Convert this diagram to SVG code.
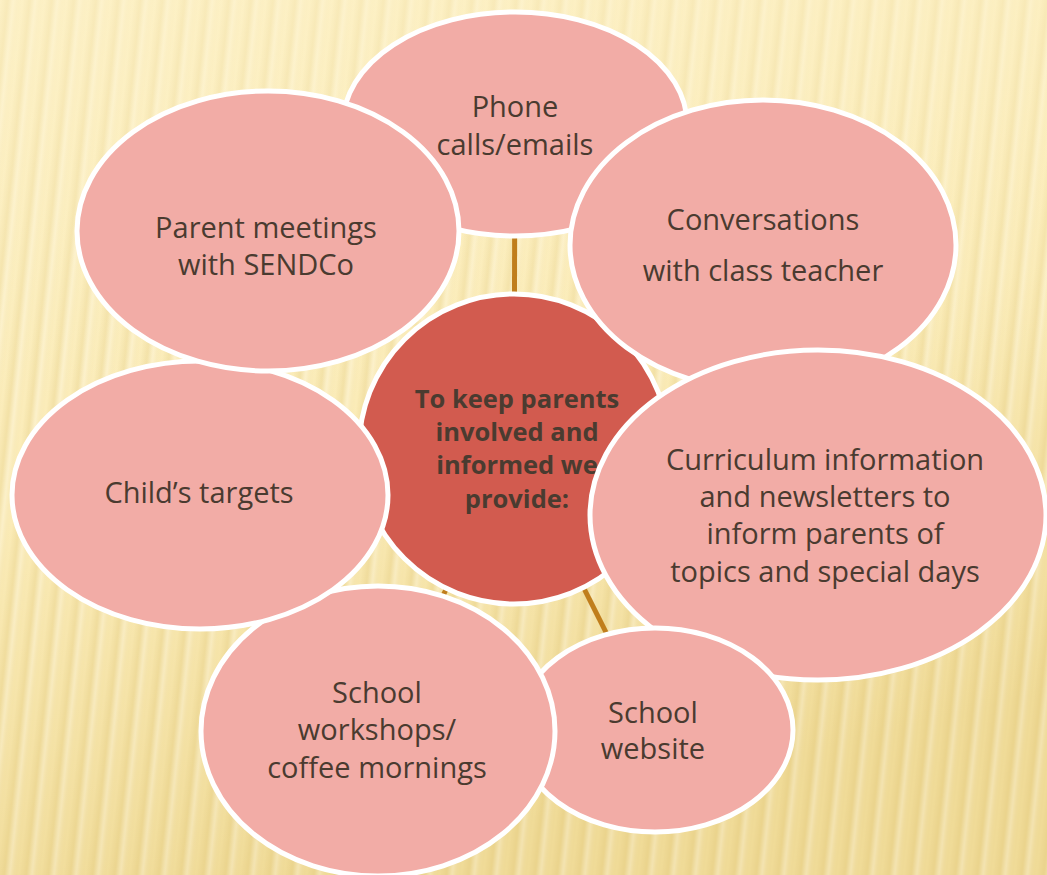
<svg xmlns="http://www.w3.org/2000/svg" width="1047" height="875" viewBox="0 0 1047 875">
  <defs>
    <linearGradient id="bg" x1="0" y1="0" x2="0.3" y2="1">
      <stop offset="0" stop-color="#fdf1c6"/>
      <stop offset="0.55" stop-color="#fbecb8"/>
      <stop offset="1" stop-color="#f0db98"/>
    </linearGradient>
    <linearGradient id="stripeg" x1="0" y1="0" x2="1" y2="0">
      <stop offset="0" stop-color="#d9bd6a" stop-opacity="0"/>
      <stop offset="0.35" stop-color="#d9bd6a" stop-opacity="0.25"/>
      <stop offset="0.6" stop-color="#ffffff" stop-opacity="0.25"/>
      <stop offset="1" stop-color="#d9bd6a" stop-opacity="0"/>
    </linearGradient>
    <pattern id="stripes" width="22" height="40" patternUnits="userSpaceOnUse" patternTransform="rotate(6)">
      <rect width="22" height="40" fill="url(#stripeg)"/>
    </pattern>
    <linearGradient id="fade" x1="0" y1="0" x2="0" y2="1">
      <stop offset="0" stop-color="#fdf1c6" stop-opacity="0.45"/>
      <stop offset="1" stop-color="#fdf1c6" stop-opacity="0"/>
    </linearGradient>
  </defs>
  <style>
    .node { fill: #f2aca6; stroke: #ffffff; stroke-width: 5; }
    .hub { fill: #d25b4f; stroke: #ffffff; stroke-width: 5; }
    .lbl { font-family: "Comic Sans MS", "Open Sans", "DejaVu Sans", sans-serif; font-size: 29px; fill: #4a3b30; text-anchor: middle; }
    .hubl { font-family: "Comic Sans MS", "Open Sans", "DejaVu Sans", sans-serif; font-size: 25.5px; font-weight: bold; fill: #4a3b30; text-anchor: middle; }
    .conn { stroke: #c07e1c; stroke-width: 5; fill: none; }
  </style>
  <rect width="1047" height="875" fill="url(#bg)"/>
  <rect width="1047" height="875" fill="url(#stripes)"/>
  <rect width="1047" height="400" fill="url(#fade)"/>

  <g id="connectors">
    <line class="conn" x1="514" y1="449" x2="515" y2="126"/>
    <line class="conn" x1="514" y1="449" x2="763" y2="244"/>
    <line class="conn" x1="514" y1="449" x2="200" y2="495"/>
    <line class="conn" x1="514" y1="449" x2="818" y2="515"/>
    <line class="conn" x1="514" y1="449" x2="655" y2="730"/>
    <line class="conn" x1="514" y1="449" x2="378" y2="730"/>
  </g>

  <g id="phone">
    <ellipse class="node" cx="515" cy="124" rx="172" ry="112"/>
    <text class="lbl" x="515" y="117">Phone</text>
    <text class="lbl" x="515" y="155">calls/emails</text>
  </g>
  <g id="hub">
    <circle class="hub" cx="514" cy="449" r="155"/>
    <text class="hubl" x="517" y="408">To keep parents</text>
    <text class="hubl" x="517" y="441">involved and</text>
    <text class="hubl" x="517" y="474">informed we</text>
    <text class="hubl" x="517" y="508">provide:</text>
  </g>
  <g id="conversations">
    <ellipse class="node" cx="763" cy="245" rx="193" ry="145"/>
    <text class="lbl" x="763" y="230">Conversations</text>
    <text class="lbl" x="763" y="281">with class teacher</text>
  </g>
  <g id="curriculum">
    <ellipse class="node" cx="818" cy="515" rx="228" ry="165"/>
    <text class="lbl" x="825" y="470">Curriculum information</text>
    <text class="lbl" x="825" y="507">and newsletters to</text>
    <text class="lbl" x="825" y="544">inform parents of</text>
    <text class="lbl" x="825" y="582">topics and special days</text>
  </g>
  <g id="website">
    <ellipse class="node" cx="655" cy="730" rx="138" ry="102"/>
    <text class="lbl" x="653" y="723">School</text>
    <text class="lbl" x="653" y="759">website</text>
  </g>
  <g id="workshops">
    <ellipse class="node" cx="378" cy="731" rx="177" ry="145"/>
    <text class="lbl" x="377" y="703">School</text>
    <text class="lbl" x="377" y="740">workshops/</text>
    <text class="lbl" x="377" y="778">coffee mornings</text>
  </g>
  <g id="targets">
    <ellipse class="node" cx="200" cy="495" rx="188" ry="134"/>
    <text class="lbl" x="199" y="503">Child’s targets</text>
  </g>
  <g id="parent">
    <ellipse class="node" cx="268" cy="231" rx="191" ry="140"/>
    <text class="lbl" x="266" y="238">Parent meetings</text>
    <text class="lbl" x="266" y="275">with SENDCo</text>
  </g>
</svg>
